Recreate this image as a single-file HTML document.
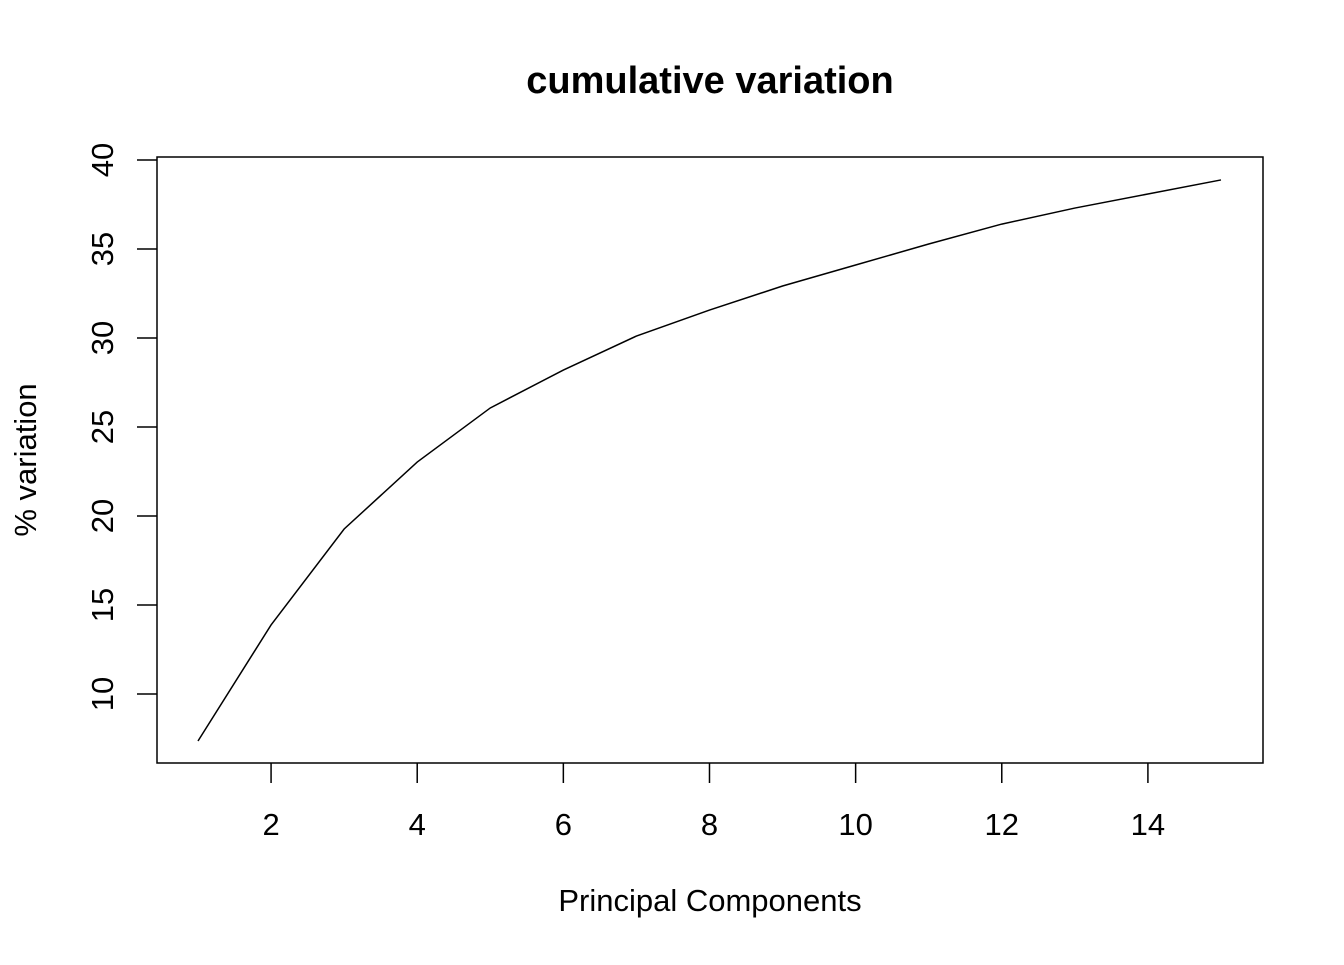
<!DOCTYPE html>
<html><head><meta charset="utf-8"><style>
body{margin:0;background:#fff;}
svg text{font-family:"Liberation Sans",Arial,sans-serif;fill:#000;}
</style></head><body>
<svg width="1344" height="960" xmlns="http://www.w3.org/2000/svg">
<text x="710" y="93" text-anchor="middle" font-size="38" font-weight="bold">cumulative variation</text>
<rect x="157" y="157" width="1106" height="606" fill="none" stroke="#000" stroke-width="1.5"/>
<g id="xaxis"></g>
<g id="yaxis"></g>
<path id="line" fill="none" stroke="#000" stroke-width="1.5"/>
<text x="710" y="911" text-anchor="middle" font-size="31">Principal Components</text>
<text transform="translate(36,460) rotate(-90)" text-anchor="middle" font-size="31">% variation</text>
</svg>
<script>
const components=[1,2,3,4,5,6,7,8,9,10,11,12,13,14,15];
const cumVariation=[7.36,13.88,19.27,23.03,26.07,28.2,30.11,31.57,32.92,34.1,35.28,36.4,37.3,38.09,38.88];
const xTicks=[2,4,6,8,10,12,14];
const yTicks=[10,15,20,25,30,35,40];
const NS="http://www.w3.org/2000/svg";
function sx(v){return 198+(v-1)*73.07;}
function sy(v){return 694-(v-10)*17.8;}
const xa=document.getElementById('xaxis'),ya=document.getElementById('yaxis');
xTicks.forEach(t=>{
 const l=document.createElementNS(NS,'line');
 
 
 l.setAttribute('x1',sx(t));l.setAttribute('x2',sx(t));l.setAttribute('y1',763);l.setAttribute('y2',783);l.setAttribute('stroke','#000');l.setAttribute('stroke-width','1.5');xa.appendChild(l);
 const tx=document.createElementNS(NS,'text');
 
 
 tx.setAttribute('x',sx(t));tx.setAttribute('y',835);tx.setAttribute('text-anchor','middle');tx.setAttribute('font-size','31');tx.textContent=t;xa.appendChild(tx);
});
yTicks.forEach(t=>{
 const l=document.createElementNS(NS,'line');
 
 
 l.setAttribute('x1',137);l.setAttribute('x2',157);l.setAttribute('y1',sy(t));l.setAttribute('y2',sy(t));l.setAttribute('stroke','#000');l.setAttribute('stroke-width','1.5');ya.appendChild(l);
 const tx=document.createElementNS(NS,'text');
 
 
 tx.setAttribute('transform','translate(113,'+sy(t)+') rotate(-90)');tx.setAttribute('text-anchor','middle');tx.setAttribute('font-size','31');tx.textContent=t;ya.appendChild(tx);
});
document.getElementById('line').setAttribute('d',components.map((c,i)=>(i?'L':'M')+sx(c)+','+sy(cumVariation[i])).join(' '));
</script>
</body></html>
